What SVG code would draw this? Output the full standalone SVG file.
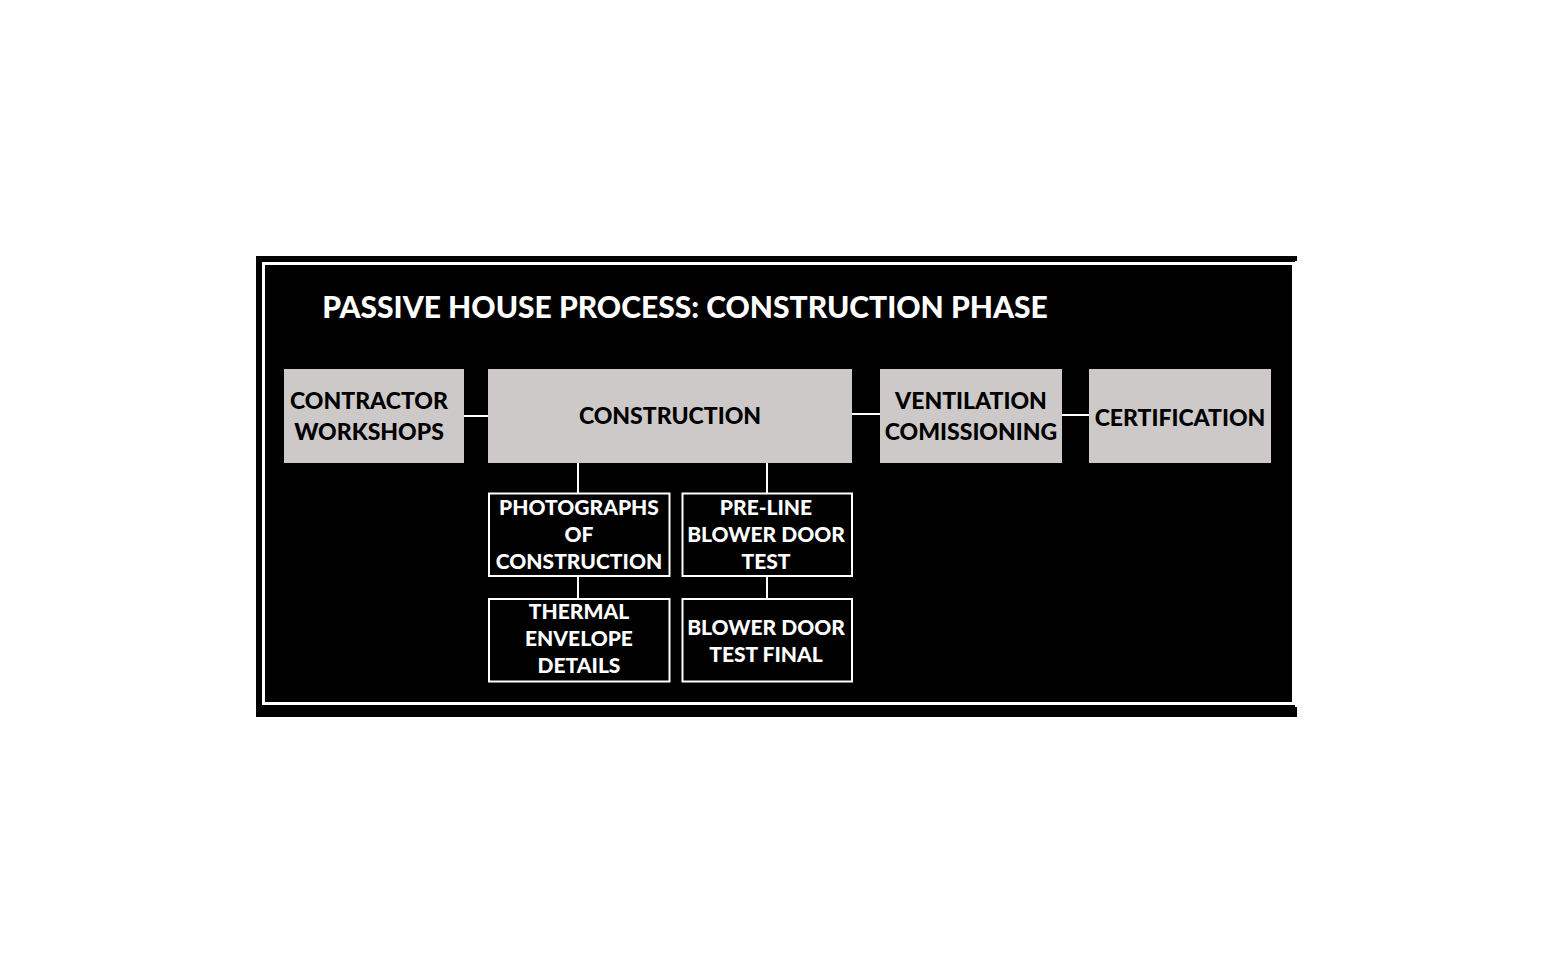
<svg xmlns="http://www.w3.org/2000/svg" width="1554" height="974" viewBox="0 0 1554 974">
<style>
.t{font-family:Lato,"Liberation Sans",sans-serif;font-weight:900;text-anchor:middle}
.g{fill:#ccc9c8}
.gt{fill:#000;font-size:23px}
.s{fill:#000;stroke:#fff;stroke-width:2}
.st{fill:#fff;font-size:21px}
.c{stroke:#fff;stroke-width:2;fill:none}
</style>
<rect width="1554" height="974" fill="#fff"/>
<g id="frame">
<rect x="256" y="256" width="1041" height="461" fill="#000"/>
<rect x="1295" y="261" width="3" height="446" fill="#fff"/>
<rect x="263.5" y="263.5" width="1030" height="440" fill="none" stroke="#fff" stroke-width="3"/>
</g>
<g id="title"><text class="t" x="685" y="318" fill="#fff" font-size="30">PASSIVE HOUSE PROCESS: CONSTRUCTION PHASE</text></g>
<g id="connectors">
<line class="c" x1="464" y1="416" x2="488" y2="416"/>
<line class="c" x1="852" y1="414" x2="880" y2="414"/>
<line class="c" x1="1062" y1="415" x2="1089" y2="415"/>
<line class="c" x1="578" y1="463" x2="578" y2="493"/>
<line class="c" x1="767" y1="463" x2="767" y2="493"/>
<line class="c" x1="578" y1="576" x2="578" y2="599"/>
<line class="c" x1="767" y1="576" x2="767" y2="599"/>
</g>
<g id="contractor"><rect class="g" x="284" y="369" width="180" height="94"/><text class="t gt" x="369" y="409">CONTRACTOR</text><text class="t gt" x="369" y="440">WORKSHOPS</text></g>
<g id="construction"><rect class="g" x="488" y="369" width="364" height="94"/><text class="t gt" x="670" y="424">CONSTRUCTION</text></g>
<g id="ventilation"><rect class="g" x="880" y="369" width="182" height="94"/><text class="t gt" x="971" y="409">VENTILATION</text><text class="t gt" x="971" y="440">COMISSIONING</text></g>
<g id="certification"><rect class="g" x="1089" y="369" width="182" height="94"/><text class="t gt" x="1180" y="426">CERTIFICATION</text></g>
<g id="photographs"><rect class="s" x="489" y="493.5" width="180.5" height="82.5"/><text class="t st" x="579" y="515">PHOTOGRAPHS</text><text class="t st" x="579" y="542">OF</text><text class="t st" x="579" y="569">CONSTRUCTION</text></g>
<g id="preline"><rect class="s" x="682.5" y="493.5" width="169.5" height="82.5"/><text class="t st" x="766" y="515">PRE-LINE</text><text class="t st" x="766" y="542">BLOWER DOOR</text><text class="t st" x="766" y="569">TEST</text></g>
<g id="thermal"><rect class="s" x="489" y="599" width="180.5" height="82.5"/><text class="t st" x="579" y="619">THERMAL</text><text class="t st" x="579" y="646">ENVELOPE</text><text class="t st" x="579" y="673">DETAILS</text></g>
<g id="blowerfinal"><rect class="s" x="682.5" y="599" width="169.5" height="82.5"/><text class="t st" x="766" y="635">BLOWER DOOR</text><text class="t st" x="766" y="662">TEST FINAL</text></g>
</svg>
